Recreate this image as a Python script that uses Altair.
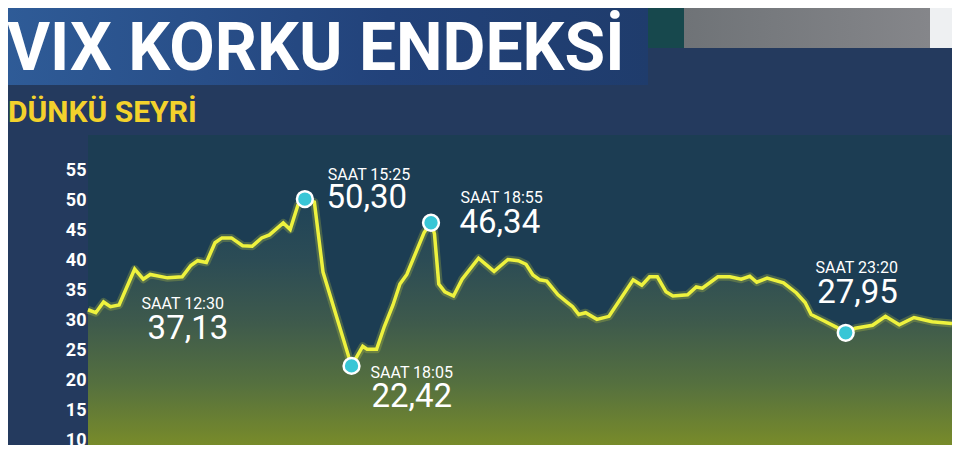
import altair as alt
import pandas as pd

# ---- texts ----
title_text = "VIX KORKU ENDEKSİ"
subtitle_text = "DÜNKÜ SEYRİ"

# ---- series (step along the day, VIX value) ----
step = [0.0, 0.9, 1.8, 2.6, 3.6, 5.4, 6.4, 7.2, 9.2, 10.9,
        11.9, 12.7, 13.7, 14.7, 15.5, 16.6, 17.9, 19.0, 20.1, 21.0,
        22.6, 23.4, 24.3, 25.1, 26.2, 27.2, 30.5, 31.8, 32.3, 33.4,
        34.3, 35.3, 36.1, 36.9, 38.9, 39.7, 40.1, 40.6, 41.3, 42.3,
        43.3, 45.2, 47.0, 48.6, 49.8, 50.7, 51.5, 52.3, 53.1, 54.4,
        55.5, 56.1, 56.8, 57.6, 58.9, 60.3, 63.1, 64.1, 65.0, 65.9,
        66.9, 67.7, 69.4, 70.4, 71.1, 72.9, 74.3, 75.6, 76.6, 77.4,
        78.6, 80.5, 82.0, 83.0, 83.7, 85.1, 86.6, 87.7, 88.8, 90.8,
        92.3, 93.9, 95.6, 97.7, 100.0]
vix = [31.8, 31.3, 33.1, 32.3, 32.6, 38.6, 36.9, 37.7, 37.13, 37.3,
       39.2, 40.0, 39.7, 43.0, 43.8, 43.8, 42.5, 42.4, 43.8, 44.3,
       46.3, 45.2, 49.3, 50.30, 49.8, 38.1, 22.42, 25.7, 25.2, 25.2,
       29.0, 32.6, 36.1, 37.7, 44.7, 46.34, 44.5, 36.1, 34.8, 34.1,
       36.9, 40.4, 38.2, 40.2, 40.0, 39.4, 37.6, 36.8, 36.6, 34.3,
       33.0, 32.3, 31.0, 31.3, 30.2, 30.7, 36.8, 35.9, 37.3, 37.3,
       34.8, 34.1, 34.3, 35.6, 35.4, 37.3, 37.3, 36.9, 37.4, 36.4,
       37.1, 36.3, 34.6, 33.0, 31.0, 30.0, 28.9, 27.95, 28.7, 29.2,
       30.7, 29.3, 30.5, 29.8, 29.5]

# ---- annotations ----
ann_time = ["SAAT 12:30", "SAAT 15:25", "SAAT 18:05", "SAAT 18:55", "SAAT 23:20"]
ann_value = [37.13, 50.30, 22.42, 46.34, 27.95]
ann_step = [9.2, 25.1, 30.5, 39.7, 87.7]
ann_marker = [False, True, True, True, True]
# label anchors (data units)
time_lbl_step = [6.2, 27.75, 32.7, 43.1, 84.2]
time_lbl_val = [32.7, 54.3, 21.2, 50.4, 38.8]
val_lbl_step = [6.9, 27.6, 32.8, 43.0, 84.4]
val_lbl_val = [28.5, 50.4, 17.3, 46.3, 34.6]

y_ticks = [10, 15, 20, 25, 30, 35, 40, 45, 50, 55]
y_domain = [9.2, 61]
x_domain = [0, 100]

W, H = 864, 310

df = pd.DataFrame({"step": step, "vix": vix})
ann = pd.DataFrame({
    "time": ann_time, "value": ann_value, "step": ann_step, "marker": ann_marker,
    "tstep": time_lbl_step, "tval": time_lbl_val,
    "vstep": val_lbl_step, "vval": val_lbl_val,
    "vtext": [f"{v:.2f}".replace(".", ",") for v in ann_value],
})
one = pd.DataFrame({"k": [0]})

xs = alt.Scale(domain=x_domain, nice=False, zero=False)
ys = alt.Scale(domain=y_domain, nice=False, zero=False)

y_axis = alt.Axis(values=y_ticks, labelColor="white", labelFont="Roboto",
                  labelFontWeight="bold", labelFontSize=18, domain=False,
                  ticks=False, grid=False, labelPadding=2, title=None,
                  labelOverlap=False, tickCount=10)

X = alt.X("step:Q", scale=xs, axis=None)
Y = alt.Y("vix:Q", scale=ys, axis=y_axis)


def xq(field):
    return alt.X(field, scale=xs, axis=None)


def yq(field):
    return alt.Y(field, scale=ys, axis=y_axis)


# decorative bands
title_band = alt.Chart(one).mark_rect(
    color=alt.Gradient(gradient="linear", x1=0, x2=1, y1=0, y2=0,
                       stops=[alt.GradientStop(color="#2f5c98", offset=0),
                              alt.GradientStop(color="#22427a", offset=0.6),
                              alt.GradientStop(color="#1f3c6c", offset=1)])
).encode(x=alt.value(-90), x2=alt.value(560), y=alt.value(-140), y2=alt.value(-50))

teal = alt.Chart(one).mark_rect(color="#17484d").encode(
    x=alt.value(560), x2=alt.value(602), y=alt.value(-140), y2=alt.value(-87))
gray = alt.Chart(one).mark_rect(
    color=alt.Gradient(gradient="linear", x1=0, x2=1, y1=0, y2=0,
                       stops=[alt.GradientStop(color="#6f7377", offset=0),
                              alt.GradientStop(color="#85868a", offset=1)])
).encode(x=alt.value(596), x2=alt.value(842), y=alt.value(-140), y2=alt.value(-87))
white = alt.Chart(one).mark_rect(color="#eef0f2").encode(
    x=alt.value(842), x2=alt.value(870), y=alt.value(-140), y2=alt.value(-87))

area = alt.Chart(df).mark_area(
    color=alt.Gradient(gradient="linear", x1=1, x2=1, y1=0, y2=1,
                       stops=[alt.GradientStop(color="#1f4358", offset=0),
                              alt.GradientStop(color="#2c4c55", offset=0.25),
                              alt.GradientStop(color="#3e5a4c", offset=0.5),
                              alt.GradientStop(color="#55703f", offset=0.75),
                              alt.GradientStop(color="#788b2a", offset=1)])
).encode(x=X, y=Y, y2=alt.datum(y_domain[0]))

glow = alt.Chart(df).mark_line(color="#e6ee3a", strokeWidth=8, opacity=0.22,
                               strokeJoin="round").encode(x=X, y=Y)
line = alt.Chart(df).mark_line(color="#eef23e", strokeWidth=3.5,
                               strokeJoin="miter").encode(x=X, y=Y)

markers = alt.Chart(ann).transform_filter("datum.marker").mark_point(
    shape="circle", filled=True, size=250, fill="#38c6d6", stroke="white",
    strokeWidth=2.5, opacity=1
).encode(x=xq("step:Q"), y=yq("value:Q"))

time_lbl = alt.Chart(ann).mark_text(
    align="left", baseline="middle", font="Roboto", fontSize=16, color="white"
).encode(x=xq("tstep:Q"), y=yq("tval:Q"), text="time:N")

val_lbl = alt.Chart(ann).mark_text(
    align="left", baseline="middle", font="Roboto", fontSize=33, color="white"
).encode(x=xq("vstep:Q"), y=yq("vval:Q"), text="vtext:N")

title = alt.Chart(one).mark_text(
    text=title_text, align="left", baseline="alphabetic", font="Roboto",
    fontWeight="bold", fontSize=66, color="white"
).encode(x=alt.value(-81), y=alt.value(-65))

subtitle = alt.Chart(one).mark_text(
    text=subtitle_text, align="left", baseline="alphabetic", font="Roboto",
    fontWeight="bold", fontSize=30, color="#f3d22c"
).encode(x=alt.value(-80), y=alt.value(-13))

chart = alt.layer(
    title_band, teal, gray, white, area, glow, line, markers,
    time_lbl, val_lbl, title, subtitle
).properties(
    width=W, height=H,
    autosize=alt.AutoSizeParams(type="none"),
    padding={"left": 80, "top": 127, "right": 0, "bottom": 0},
    background="#243a5e",
).configure_view(stroke=None, fill="#1c3d53")

chart.save("out.html", embed_options={"renderer": "svg", "actions": False})
